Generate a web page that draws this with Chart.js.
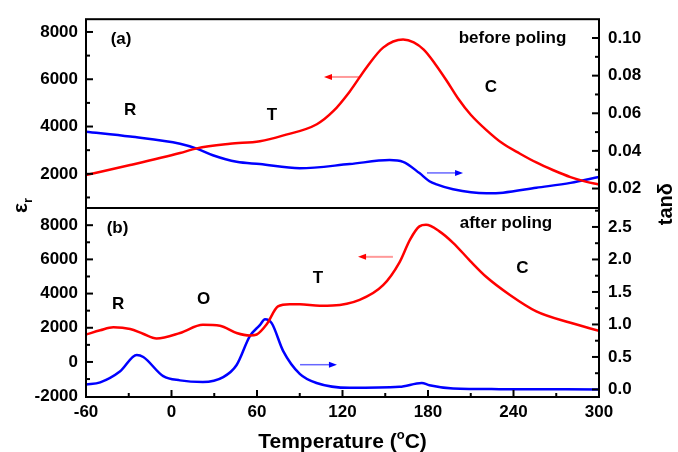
<!DOCTYPE html>
<html>
<head>
<meta charset="utf-8">
<script src="https://cdn.jsdelivr.net/npm/chart.js@4/dist/chart.umd.min.js"></script>
<style>
  html, body { margin: 0; padding: 0; background: #fff; }
  #wrap { width: 678px; height: 452px; }
</style>
</head>
<body>
<div id="wrap"><canvas id="chart" width="678" height="452"></canvas></div>
<script>
// (a) before poling - permittivity
const epsBeforeT = [-60, -29, 6, 17.7, 41, 62, 78, 102, 113.5, 125, 137, 148.5, 162.5, 170, 177, 185, 193, 201, 210, 221, 232, 244.6, 256, 268, 280, 290, 300];
const epsBefore  = [1950, 2372, 2881, 3076, 3270, 3380, 3614, 4098, 4648, 5476, 6510, 7338, 7680, 7560, 7250, 6650, 5950, 5200, 4500, 3850, 3300, 2850, 2480, 2150, 1860, 1680, 1545];
// (a) before poling - tan delta
const tanBeforeT = [-60, -29, 6, 17.7, 29, 45.7, 62, 90, 125, 153, 162.5, 174, 181, 186, 197.6, 221, 232.7, 256, 280, 300];
const tanBefore  = [0.0502, 0.0476, 0.0438, 0.0412, 0.0377, 0.0342, 0.0330, 0.0308, 0.0330, 0.0351, 0.0342, 0.0282, 0.0239, 0.0222, 0.0196, 0.0175, 0.0178, 0.0204, 0.0230, 0.0261];
// (b) after poling - permittivity
const epsAfterT = [-60, -50, -40.8, -29, -20, -10.5, 6, 22, 34, 45.7, 55, 59.8, 66.8, 74.7, 83, 90, 104, 113, 132, 148.5, 160, 167.4, 174, 178.6, 188, 197.6, 209.5, 221, 237.5, 256, 280, 300];
const epsAfter  = [1605, 1850, 2024, 1926, 1650, 1376, 1697, 2178, 2121, 1697, 1548, 1605, 2200, 3250, 3380, 3380, 3290, 3300, 3630, 4490, 5830, 7160, 7930, 8020, 7640, 6970, 5920, 4970, 3920, 2960, 2290, 1820];
// (b) after poling - tan delta
const tanAfterT = [-60, -50, -36, -24.4, -19.8, -5.8, 6, 22, 36.3, 45.7, 55, 62, 65.6, 70.3, 78.4, 90, 101.8, 125, 160, 175.6, 181, 197.6, 230, 300];
const tanAfter  = [0.075, 0.11, 0.28, 0.53, 0.50, 0.205, 0.14, 0.115, 0.19, 0.376, 0.82, 0.99, 1.08, 1.02, 0.59, 0.24, 0.10, 0.025, 0.04, 0.10, 0.065, 0.015, 0.005, 0.0];

// axis ticks
const tempTicks = [-60, 0, 60, 120, 180, 240, 300];
const epsTicks = [-2000, 0, 2000, 4000, 6000, 8000];
const tanTicksA = [0.02, 0.04, 0.06, 0.08, 0.10];
const tanTicksB = [0.0, 0.5, 1.0, 1.5, 2.0, 2.5];

// text in the panels, placed in data units
const noteText  = ['(a)', 'R', 'T', 'C', 'before poling', '(b)', 'R', 'O', 'T', 'C', 'after poling'];
const noteTemp  = [-35.4, -29.1, 70.5, 224.2, 239.3, -37.9, -37.5, 22.5, 102.8, 246.3, 234.7];
const noteValue = [7669, 4690, 4483, 5641, 7752, 7811, 3399, 3657, 4889, 5462, 8097];
const noteAxis  = ['yA', 'yA', 'yA', 'yA', 'yA', 'yB', 'yB', 'yB', 'yB', 'yB', 'yB'];

// arrows pointing at the axis of each curve
const arrowFrom  = [132.3, 179.3, 155.4, 90.2];
const arrowTo    = [107.0, 204.6, 130.9, 116.1];
const arrowValue = [6097, 0.0283, 6149, 0.381];
const arrowAxis  = ['yA', 'tA', 'yB', 'tB'];
const arrowColor = ['red', 'blue', 'red', 'blue'];

const FONT = '"Liberation Sans", Arial, sans-serif';
const pts = (xs, ys) => xs.map((x, i) => ({x: x, y: ys[i]}));

function seg(ctx, x1, y1, x2, y2) {
  ctx.beginPath();
  ctx.moveTo(x1, y1);
  ctx.lineTo(x2, y2);
  ctx.stroke();
}

// inward tick marks, major + minor
function tickMarks(ctx, scale, minor, major, side, edge) {
  const lo = scale.min, hi = scale.max;
  ctx.strokeStyle = '#000';
  ctx.lineWidth = 2;
  for (let k = Math.ceil(lo / minor - 1e-9); k * minor <= hi + 1e-9; k++) {
    const v = k * minor;
    const p = scale.getPixelForValue(v);
    const r = v / major;
    const len = Math.abs(r - Math.round(r)) < 1e-6 ? 7 : 4;
    if (side === 'bottom') {
      if (p < scale.left + 2 || p > scale.right - 2) continue;
      seg(ctx, p, edge, p, edge - len);
    } else {
      if (p < scale.top + 2 || p > scale.bottom - 2) continue;
      seg(ctx, edge, p, side === 'left' ? edge + len : edge - len, p);
    }
  }
}

function drawArrow(ctx, x1, x2, y, color) {
  const dir = x2 > x1 ? 1 : -1;
  ctx.strokeStyle = color === 'red' ? 'rgba(255,0,0,0.4)' : 'rgba(0,0,255,0.6)';
  ctx.lineWidth = color === 'red' ? 2 : 1.5;
  seg(ctx, x1, y, x2 - dir * 6, y);
  ctx.fillStyle = color === 'red' ? '#ff0000' : '#0000ff';
  ctx.beginPath();
  ctx.moveTo(x2, y);
  ctx.lineTo(x2 - dir * 8, y - 3);
  ctx.lineTo(x2 - dir * 8, y + 3);
  ctx.closePath();
  ctx.fill();
}

const decorations = {
  id: 'decorations',
  afterDraw(chart) {
    const {ctx, chartArea: a, scales} = chart;
    const mid = scales.yA.bottom;
    ctx.save();
    ctx.strokeStyle = '#000';
    ctx.lineWidth = 2;
    ctx.strokeRect(a.left, a.top, a.right - a.left, a.bottom - a.top);
    seg(ctx, a.left, mid, a.right, mid);

    tickMarks(ctx, scales.x, 30, 60, 'bottom', a.bottom);
    tickMarks(ctx, scales.yA, 1000, 2000, 'left', a.left);
    tickMarks(ctx, scales.yB, 1000, 2000, 'left', a.left);
    tickMarks(ctx, scales.tA, 0.01, 0.02, 'right', a.right);
    tickMarks(ctx, scales.tB, 0.25, 0.5, 'right', a.right);

    // panel notes
    ctx.fillStyle = '#000';
    ctx.font = 'bold 17px ' + FONT;
    ctx.textAlign = 'center';
    ctx.textBaseline = 'middle';
    noteText.forEach((t, i) => {
      ctx.fillText(t, scales.x.getPixelForValue(noteTemp[i]), scales[noteAxis[i]].getPixelForValue(noteValue[i]));
    });

    arrowFrom.forEach((f, i) => {
      drawArrow(ctx, scales.x.getPixelForValue(f), scales.x.getPixelForValue(arrowTo[i]),
        scales[arrowAxis[i]].getPixelForValue(arrowValue[i]), arrowColor[i]);
    });

    // x title with superscript o
    ctx.fillStyle = '#000';
    ctx.textAlign = 'left';
    ctx.textBaseline = 'alphabetic';
    const big = 'bold 21px ' + FONT, small = 'bold 13px ' + FONT;
    ctx.font = big;
    const w1 = ctx.measureText('Temperature (').width;
    const w3 = ctx.measureText('C)').width;
    ctx.font = small;
    const w2 = ctx.measureText('o').width;
    const x0 = (a.left + a.right) / 2 - (w1 + w2 + w3) / 2;
    const yb = 448;
    ctx.font = big;
    ctx.fillText('Temperature (', x0, yb);
    ctx.font = small;
    ctx.fillText('o', x0 + w1, yb - 9);
    ctx.font = big;
    ctx.fillText('C)', x0 + w1 + w2, yb);

    // left title: eps_r
    ctx.save();
    ctx.translate(27, mid);
    ctx.rotate(-Math.PI / 2);
    ctx.font = 'bold 21px ' + FONT;
    ctx.textAlign = 'center';
    ctx.fillText('\u03b5', 0, 0);
    ctx.font = 'bold 13px ' + FONT;
    ctx.textAlign = 'left';
    ctx.fillText('r', 5, 5);
    ctx.restore();

    // right title: tan delta
    ctx.save();
    ctx.translate(666, mid - 4);
    ctx.rotate(-Math.PI / 2);
    ctx.font = 'bold 20px ' + FONT;
    ctx.textAlign = 'center';
    ctx.textBaseline = 'middle';
    ctx.fillText('tan\u03b4', 0, 0);
    ctx.restore();

    ctx.restore();
  }
};

const tickFont = {family: FONT, size: 17, weight: 'bold'};
const yAxis = (pos, stack, min, max, list, fmt, pad, width) => ({
  position: pos, stack: stack, stackWeight: 1, min: min, max: max,
  grid: {display: false, drawTicks: false},
  border: {display: false},
  afterFit: s => { s.width = width; },
  afterBuildTicks: s => { s.ticks = list.map(v => ({value: v})); },
  ticks: {padding: pad, color: '#000', font: tickFont, autoSkip: false, callback: fmt}
});

new Chart(document.getElementById('chart'), {
  type: 'line',
  data: {
    datasets: [
      {data: pts(epsBeforeT, epsBefore), yAxisID: 'yA', borderColor: '#ff0000'},
      {data: pts(tanBeforeT, tanBefore), yAxisID: 'tA', borderColor: '#0000ff'},
      {data: pts(epsAfterT, epsAfter), yAxisID: 'yB', borderColor: '#ff0000'},
      {data: pts(tanAfterT, tanAfter), yAxisID: 'tB', borderColor: '#0000ff'}
    ]
  },
  options: {
    responsive: false,
    animation: false,
    layout: {padding: {top: 11, left: 0, right: 0, bottom: 0}},
    elements: {
      line: {borderWidth: 2.5, cubicInterpolationMode: 'monotone', fill: false},
      point: {radius: 0}
    },
    plugins: {legend: {display: false}, tooltip: {enabled: false}},
    scales: {
      x: {
        type: 'linear', min: -60, max: 300,
        grid: {display: false, drawTicks: false},
        border: {display: false},
        afterFit: s => { s.height = 55; },
        afterBuildTicks: s => { s.ticks = tempTicks.map(v => ({value: v})); },
        ticks: {padding: 5, color: '#000', font: tickFont, maxRotation: 0, autoSkip: false, callback: v => String(v)}
      },
      // left stack is laid out in reverse order, so the lower panel comes first
      yB: yAxis('left', 'eps', -2050, 9000, epsTicks, v => String(v), 8, 86),
      yA: yAxis('left', 'eps', 550, 8540, epsTicks.filter(v => v >= 2000), v => String(v), 8, 86),
      tA: yAxis('right', 'tan', 0.0096, 0.11, tanTicksA, v => v.toFixed(2), 9, 79),
      tB: yAxis('right', 'tan', -0.116, 2.79, tanTicksB, v => v.toFixed(1), 9, 79)
    }
  },
  plugins: [decorations]
});
</script>
</body>
</html>
